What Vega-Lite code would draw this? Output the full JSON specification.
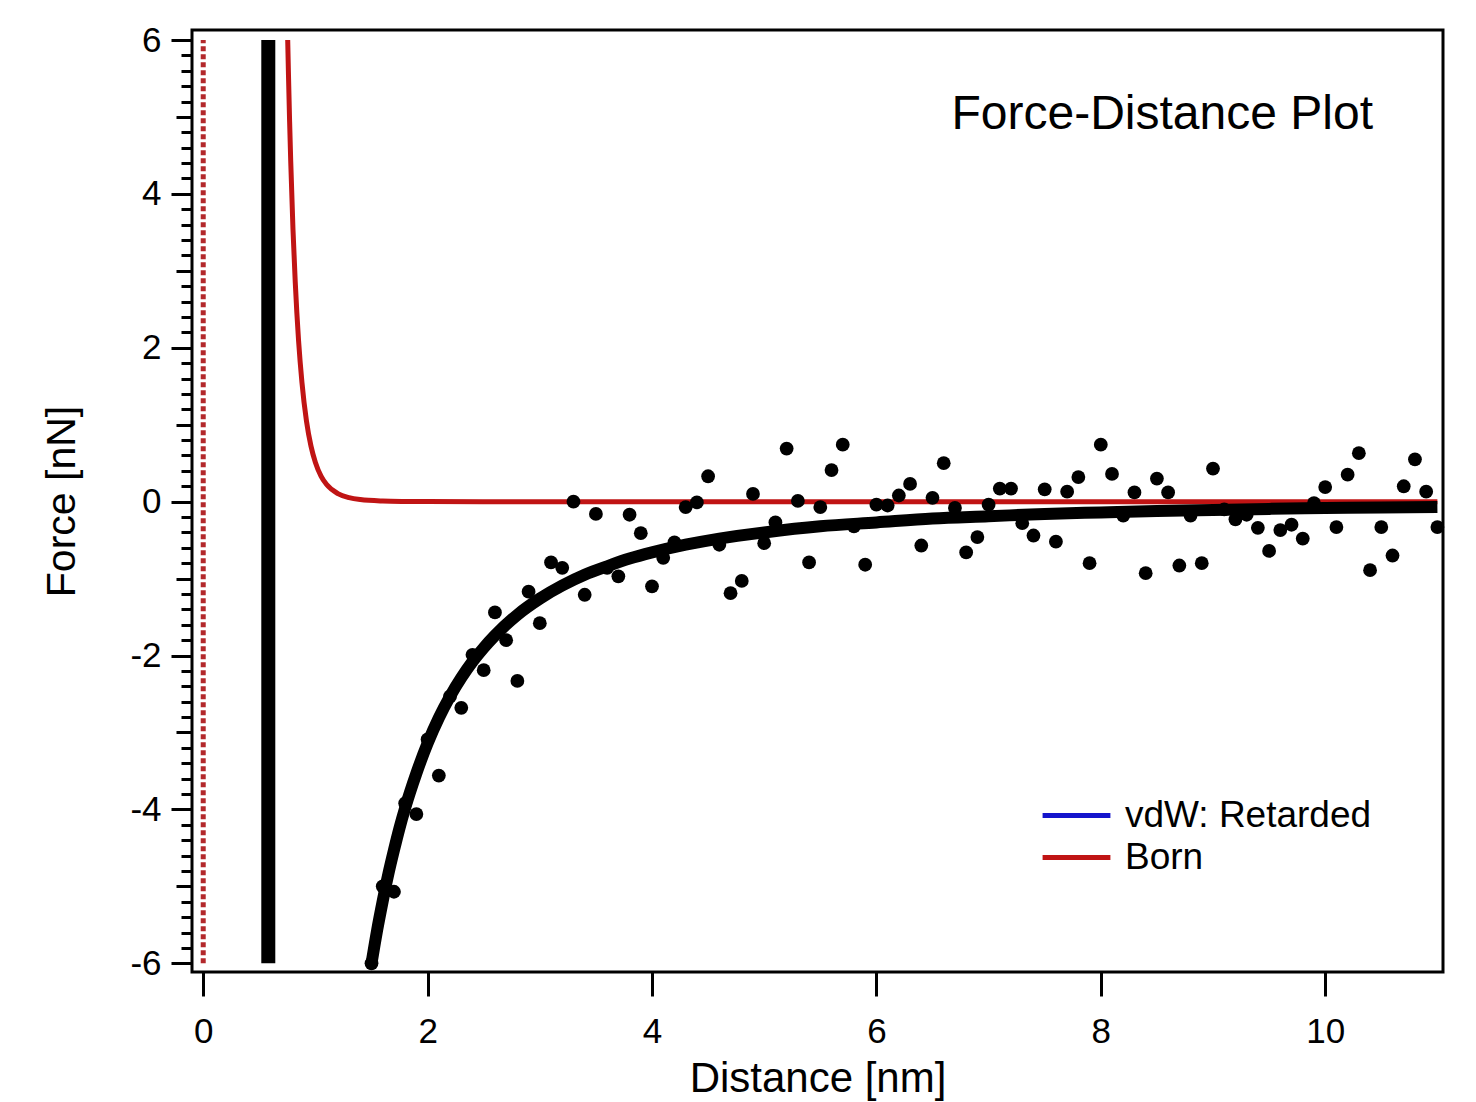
{
  "$schema": "https://vega.github.io/schema/vega-lite/v6.json",
  "autosize": {"type": "none"},
  "width": 1251,
  "height": 942,
  "padding": {"left": 192, "top": 30, "right": 33, "bottom": 130},
  "background": "white",
  "title": {"text": "Force-Distance Plot", "anchor": "end", "orient": "top", "frame": "group", "offset": -154, "baseline": "alphabetic", "dx": -70, "fontSize": 48, "fontWeight": "normal", "font": "Liberation Sans", "color": "black"},
  "config": {
    "font": "Liberation Sans",
    "view": {"stroke": "black", "strokeWidth": 3},
    "axis": {"domain": false, "grid": false, "tickColor": "black", "tickWidth": 3, "labelColor": "black", "labelFont": "Liberation Sans", "labelFontSize": 35, "titleFont": "Liberation Sans", "titleFontSize": 41, "titleFontWeight": "normal", "titleColor": "black", "labelFlush": false, "labelOverlap": false, "labelBound": false}
  },
  "datasets": {
    "dotted": [{"d": 0, "F1": -6, "F2": 6}],
    "vband": [{"d": 0.58, "F1": -6, "F2": 6}],
    "born": [
      {"d": 0.753, "F": 6.0, "series": "Born"},
      {"d": 0.76, "F": 5.54, "series": "Born"},
      {"d": 0.77, "F": 4.94, "series": "Born"},
      {"d": 0.78, "F": 4.42, "series": "Born"},
      {"d": 0.80, "F": 3.54, "series": "Born"},
      {"d": 0.82, "F": 2.86, "series": "Born"},
      {"d": 0.85, "F": 2.09, "series": "Born"},
      {"d": 0.88, "F": 1.55, "series": "Born"},
      {"d": 0.92, "F": 1.05, "series": "Born"},
      {"d": 0.96, "F": 0.725, "series": "Born"},
      {"d": 1.0, "F": 0.51, "series": "Born"},
      {"d": 1.05, "F": 0.332, "series": "Born"},
      {"d": 1.1, "F": 0.222, "series": "Born"},
      {"d": 1.2, "F": 0.104, "series": "Born"},
      {"d": 1.3, "F": 0.052, "series": "Born"},
      {"d": 1.4, "F": 0.027, "series": "Born"},
      {"d": 1.6, "F": 0.0085, "series": "Born"},
      {"d": 1.8, "F": 0.003, "series": "Born"},
      {"d": 2.0, "F": 0.0012, "series": "Born"},
      {"d": 3.0, "F": 0.0, "series": "Born"},
      {"d": 5.0, "F": 0.0, "series": "Born"},
      {"d": 8.0, "F": 0.0, "series": "Born"},
      {"d": 11.0, "F": 0.0, "series": "Born"}
    ],
    "fit": [
      {"d": 1.5, "F": -6.0}, {"d": 1.55, "F": -5.57}, {"d": 1.6, "F": -5.19}, {"d": 1.65, "F": -4.84},
      {"d": 1.7, "F": -4.53}, {"d": 1.75, "F": -4.24}, {"d": 1.8, "F": -3.98}, {"d": 1.9, "F": -3.53},
      {"d": 2.0, "F": -3.14}, {"d": 2.1, "F": -2.81}, {"d": 2.2, "F": -2.53}, {"d": 2.3, "F": -2.29},
      {"d": 2.4, "F": -2.08}, {"d": 2.5, "F": -1.90}, {"d": 2.6, "F": -1.74}, {"d": 2.8, "F": -1.47},
      {"d": 3.0, "F": -1.26}, {"d": 3.2, "F": -1.09}, {"d": 3.4, "F": -0.95}, {"d": 3.6, "F": -0.84},
      {"d": 3.8, "F": -0.74}, {"d": 4.0, "F": -0.66}, {"d": 4.3, "F": -0.56}, {"d": 4.6, "F": -0.48},
      {"d": 5.0, "F": -0.40}, {"d": 5.5, "F": -0.32}, {"d": 6.0, "F": -0.27}, {"d": 6.5, "F": -0.22},
      {"d": 7.0, "F": -0.19}, {"d": 7.5, "F": -0.16}, {"d": 8.0, "F": -0.14}, {"d": 8.5, "F": -0.12},
      {"d": 9.0, "F": -0.11}, {"d": 9.5, "F": -0.094}, {"d": 10.0, "F": -0.084}, {"d": 10.5, "F": -0.075},
      {"d": 11.0, "F": -0.068}
    ],
    "points": [
      {"d": 1.5, "F": -6.0}, {"d": 1.6, "F": -5.0}, {"d": 1.7, "F": -5.07}, {"d": 1.8, "F": -3.92},
      {"d": 1.9, "F": -4.06}, {"d": 2.0, "F": -3.09}, {"d": 2.1, "F": -3.56}, {"d": 2.2, "F": -2.53},
      {"d": 2.3, "F": -2.68}, {"d": 2.4, "F": -1.99}, {"d": 2.5, "F": -2.19}, {"d": 2.6, "F": -1.44},
      {"d": 2.7, "F": -1.80}, {"d": 2.8, "F": -2.33}, {"d": 2.9, "F": -1.17}, {"d": 3.0, "F": -1.58},
      {"d": 3.1, "F": -0.79}, {"d": 3.2, "F": -0.86}, {"d": 3.3, "F": 0.0}, {"d": 3.4, "F": -1.21},
      {"d": 3.5, "F": -0.16}, {"d": 3.6, "F": -0.86}, {"d": 3.7, "F": -0.97}, {"d": 3.8, "F": -0.17},
      {"d": 3.9, "F": -0.41}, {"d": 4.0, "F": -1.10}, {"d": 4.1, "F": -0.73}, {"d": 4.2, "F": -0.53},
      {"d": 4.3, "F": -0.07}, {"d": 4.4, "F": -0.01}, {"d": 4.5, "F": 0.33}, {"d": 4.6, "F": -0.56},
      {"d": 4.7, "F": -1.19}, {"d": 4.8, "F": -1.03}, {"d": 4.9, "F": 0.10}, {"d": 5.0, "F": -0.54},
      {"d": 5.1, "F": -0.27}, {"d": 5.2, "F": 0.69}, {"d": 5.3, "F": 0.01}, {"d": 5.4, "F": -0.79},
      {"d": 5.5, "F": -0.07}, {"d": 5.6, "F": 0.41}, {"d": 5.7, "F": 0.74}, {"d": 5.8, "F": -0.32},
      {"d": 5.9, "F": -0.82}, {"d": 6.0, "F": -0.04}, {"d": 6.1, "F": -0.05}, {"d": 6.2, "F": 0.08},
      {"d": 6.3, "F": 0.23}, {"d": 6.4, "F": -0.57}, {"d": 6.5, "F": 0.05}, {"d": 6.6, "F": 0.50},
      {"d": 6.7, "F": -0.08}, {"d": 6.8, "F": -0.66}, {"d": 6.9, "F": -0.46}, {"d": 7.0, "F": -0.04},
      {"d": 7.1, "F": 0.17}, {"d": 7.2, "F": 0.17}, {"d": 7.3, "F": -0.28}, {"d": 7.4, "F": -0.44},
      {"d": 7.5, "F": 0.16}, {"d": 7.6, "F": -0.52}, {"d": 7.7, "F": 0.13}, {"d": 7.8, "F": 0.32},
      {"d": 7.9, "F": -0.80}, {"d": 8.0, "F": 0.74}, {"d": 8.1, "F": 0.36}, {"d": 8.2, "F": -0.18},
      {"d": 8.3, "F": 0.12}, {"d": 8.4, "F": -0.93}, {"d": 8.5, "F": 0.30}, {"d": 8.6, "F": 0.12},
      {"d": 8.7, "F": -0.83}, {"d": 8.8, "F": -0.18}, {"d": 8.9, "F": -0.80}, {"d": 9.0, "F": 0.43},
      {"d": 9.1, "F": -0.10}, {"d": 9.2, "F": -0.23}, {"d": 9.3, "F": -0.17}, {"d": 9.4, "F": -0.34},
      {"d": 9.5, "F": -0.64}, {"d": 9.6, "F": -0.37}, {"d": 9.7, "F": -0.30}, {"d": 9.8, "F": -0.48},
      {"d": 9.9, "F": -0.02}, {"d": 10.0, "F": 0.19}, {"d": 10.1, "F": -0.33}, {"d": 10.2, "F": 0.35},
      {"d": 10.3, "F": 0.63}, {"d": 10.4, "F": -0.89}, {"d": 10.5, "F": -0.33}, {"d": 10.6, "F": -0.70},
      {"d": 10.7, "F": 0.20}, {"d": 10.8, "F": 0.55}, {"d": 10.9, "F": 0.13}, {"d": 11.0, "F": -0.33}
    ]
  },
  "resolve": {"axis": {"x": "independent", "y": "independent"}},
  "layer": [
    {
      "data": {"name": "dotted"},
      "mark": {"type": "rule", "color": "#b3282b", "strokeWidth": 5, "strokeDash": [5, 3], "strokeCap": "butt"},
      "encoding": {
        "x": {"field": "d", "type": "quantitative", "scale": {"domain": [-0.1, 11.05], "nice": false, "zero": false}, "axis": null},
        "y": {"field": "F1", "type": "quantitative", "scale": {"domain": [-6.113, 6.13], "nice": false, "zero": false},
              "axis": {"orient": "left", "values": [-6,-5.8,-5.6,-5.4,-5.2,-5,-4.8,-4.6,-4.4,-4.2,-4,-3.8,-3.6,-3.4,-3.2,-3,-2.8,-2.6,-2.4,-2.2,-2,-1.8,-1.6,-1.4,-1.2,-1,-0.8,-0.6,-0.4,-0.2,0,0.2,0.4,0.6,0.8,1,1.2,1.4,1.6,1.8,2,2.2,2.4,2.6,2.8,3,3.2,3.4,3.6,3.8,4,4.2,4.4,4.6,4.8,5,5.2,5.4,5.6,5.8,6], "tickSize": 11, "labels": false, "title": null}},
        "y2": {"field": "F2"}
      }
    },
    {
      "data": {"name": "vband"},
      "mark": {"type": "rule", "color": "black", "strokeWidth": 14, "strokeCap": "butt"},
      "encoding": {
        "x": {"field": "d", "type": "quantitative", "scale": {"domain": [-0.1, 11.05], "nice": false, "zero": false}, "axis": null},
        "y": {"field": "F1", "type": "quantitative", "scale": {"domain": [-6.113, 6.13], "nice": false, "zero": false},
              "axis": {"orient": "left", "values": [-5, -3, -1, 1, 3, 5], "tickSize": 16, "labels": false, "title": null}},
        "y2": {"field": "F2"}
      }
    },
    {
      "data": {"name": "born"},
      "mark": {"type": "line", "strokeWidth": 5, "interpolate": "monotone"},
      "encoding": {
        "x": {"field": "d", "type": "quantitative", "scale": {"domain": [-0.1, 11.05], "nice": false, "zero": false}, "axis": null},
        "y": {"field": "F", "type": "quantitative", "scale": {"domain": [-6.113, 6.13], "nice": false, "zero": false}, "axis": null},
        "color": {"field": "series", "type": "nominal",
                  "scale": {"domain": ["vdW: Retarded", "Born"], "range": ["#1414cc", "#c01414"]},
                  "legend": {"orient": "none", "legendX": 848, "legendY": 767, "title": null, "symbolType": "stroke", "symbolSize": 4600, "symbolStrokeWidth": 5, "labelFontSize": 37, "labelFont": "Liberation Sans", "labelColor": "black", "labelLimit": 0, "labelOffset": 12, "rowPadding": 4, "clipHeight": 37, "padding": 0}}
      }
    },
    {
      "data": {"name": "fit"},
      "mark": {"type": "line", "color": "black", "strokeWidth": 12, "interpolate": "monotone", "strokeCap": "butt"},
      "encoding": {
        "x": {"field": "d", "type": "quantitative", "scale": {"domain": [-0.1, 11.05], "nice": false, "zero": false}, "axis": null},
        "y": {"field": "F", "type": "quantitative", "scale": {"domain": [-6.113, 6.13], "nice": false, "zero": false}, "axis": null}
      }
    },
    {
      "data": {"name": "points"},
      "mark": {"type": "circle", "color": "black", "opacity": 1, "size": 190},
      "encoding": {
        "x": {"field": "d", "type": "quantitative", "scale": {"domain": [-0.1, 11.05], "nice": false, "zero": false},
              "axis": {"orient": "bottom", "values": [0, 2, 4, 6, 8, 10], "tickSize": 24, "labelPadding": 18, "labelExpr": "toString(datum.value)", "title": "Distance [nm]", "titlePadding": 9, "titleFontSize": 42}},
        "y": {"field": "F", "type": "quantitative", "scale": {"domain": [-6.113, 6.13], "nice": false, "zero": false},
              "axis": {"orient": "left", "values": [-6, -4, -2, 0, 2, 4, 6], "tickSize": 21, "labelPadding": 10, "labelExpr": "toString(datum.value)", "title": "Force [nN]", "titlePadding": 46}}
      }
    }
  ]
}
